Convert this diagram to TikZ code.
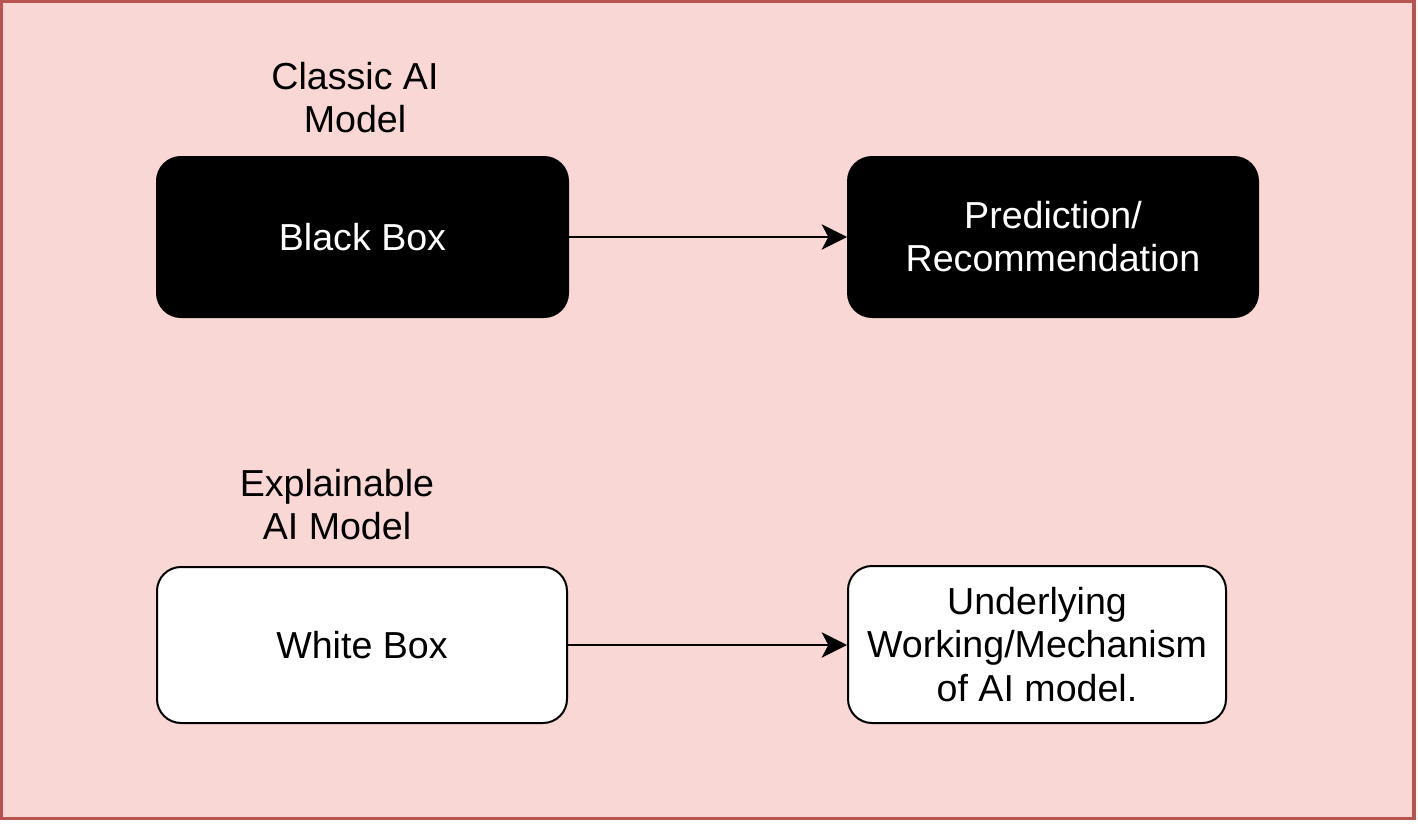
\documentclass[tikz,border=0pt]{standalone}
\usepackage{fontspec}
\setmainfont{Liberation Sans}
\usetikzlibrary{arrows.meta}
\definecolor{bgfill}{HTML}{F8D7D5}
\definecolor{bgline}{HTML}{B85450}
\begin{document}
\begin{tikzpicture}[x=0.75pt,y=-0.75pt,
  txt/.style={font=\fontsize{28.2}{32.3}\selectfont, align=center},
  darkbox/.style={txt, draw=black, fill=black, text=white, line width=1.5pt, rounded corners=18pt, inner sep=0pt},
  lightbox/.style={txt, draw=black, fill=white, text=black, line width=1.5pt, rounded corners=18pt, inner sep=0pt},
  arr/.style={line width=1.5pt, -{Stealth[length=19pt,width=19pt,inset=5pt]}},
  lbl/.style={txt, inner sep=0pt}]
\useasboundingbox (0,0) rectangle (1418,824);
\draw[fill=bgfill, draw=bgline, line width=2.4pt] (1.6,1.6) rectangle (1414,818.4);
\node[darkbox, minimum width=411*0.75pt, minimum height=160*0.75pt] (bb) at (362.5,237) {Black Box};
\node[darkbox, minimum width=410*0.75pt, minimum height=160*0.75pt] (pr) at (1053,237) {Prediction/\\Recommendation};
\node[lightbox, minimum width=410*0.75pt, minimum height=156*0.75pt] (wb) at (362,645) {White Box};
\node[lightbox, minimum width=378*0.75pt, minimum height=157*0.75pt] (uw) at (1037,644.5) {Underlying\\Working/Mechanism\\of AI model.};
\node[lbl] (cl) at (355,98) {Classic AI\\Model};
\node[lbl] (ex) at (337,505) {Explainable\\AI Model};
\draw[arr] (bb.east) -- (pr.west);
\draw[arr] (wb.east) -- (wb.east -| uw.west);
\end{tikzpicture}
\end{document}
